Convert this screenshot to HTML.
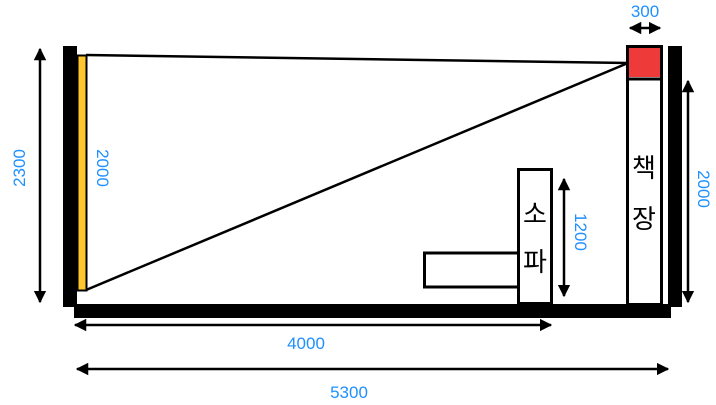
<!DOCTYPE html>
<html><head><meta charset="utf-8"><style>
html,body{margin:0;padding:0;background:#fff;width:716px;height:405px;overflow:hidden}
svg{display:block}
text{font-family:"Liberation Sans","Noto Sans CJK KR",sans-serif}
</style></head><body>
<svg width="716" height="405" viewBox="0 0 716 405" xmlns="http://www.w3.org/2000/svg">
<defs>
<marker id="a" viewBox="0 0 10 10" refX="9" refY="5" markerWidth="5" markerHeight="5" orient="auto-start-reverse"><path d="M0,0 L10,5 L0,10 z" fill="#000"/></marker>
</defs>
<rect x="63" y="46" width="14" height="261" fill="#000"/>
<rect x="668" y="46" width="14" height="261" fill="#000"/>
<rect x="74" y="304" width="597" height="14" fill="#000"/>
<rect x="77.5" y="55.5" width="9" height="235" fill="#FFC62E" stroke="#000" stroke-width="2"/>
<line x1="86" y1="55" x2="628" y2="63" stroke="#000" stroke-width="2.5"/>
<line x1="86" y1="290" x2="628" y2="63" stroke="#000" stroke-width="2.5"/>
<rect x="627.5" y="46.5" width="34" height="258" fill="#fff" stroke="#000" stroke-width="3"/>
<rect x="629" y="48" width="31" height="29" fill="#EF3A3A"/>
<line x1="627" y1="79" x2="662" y2="79" stroke="#000" stroke-width="3"/>
<text x="644" y="177" font-size="26" text-anchor="middle">책</text>
<text x="644" y="228" font-size="26" text-anchor="middle">장</text>
<rect x="424.5" y="253" width="94" height="34" fill="#fff" stroke="#000" stroke-width="3"/>
<rect x="518.5" y="169.5" width="33" height="134" fill="#fff" stroke="#000" stroke-width="3"/>
<text x="535" y="223" font-size="26" text-anchor="middle">소</text>
<text x="535" y="271" font-size="26" text-anchor="middle">파</text>
<g stroke="#000" stroke-width="2.5" marker-start="url(#a)" marker-end="url(#a)">
<line x1="40" y1="49" x2="40" y2="302"/>
<line x1="630" y1="28" x2="660" y2="28"/>
<line x1="688" y1="81" x2="688" y2="302"/>
<line x1="564" y1="179" x2="564" y2="296"/>
<line x1="75" y1="325" x2="551" y2="325"/>
<line x1="77" y1="369" x2="668" y2="369"/>
</g>
<g fill="#1E90FF" font-size="17" text-anchor="middle">
<text transform="translate(25,168) rotate(-90)">2300</text>
<text transform="translate(97,168) rotate(90)">2000</text>
<text x="645" y="17">300</text>
<text transform="translate(698,189) rotate(90)">2000</text>
<text transform="translate(575,232) rotate(90)">1200</text>
<text x="306" y="349">4000</text>
<text x="349" y="398">5300</text>
</g>
</svg>
</body></html>
